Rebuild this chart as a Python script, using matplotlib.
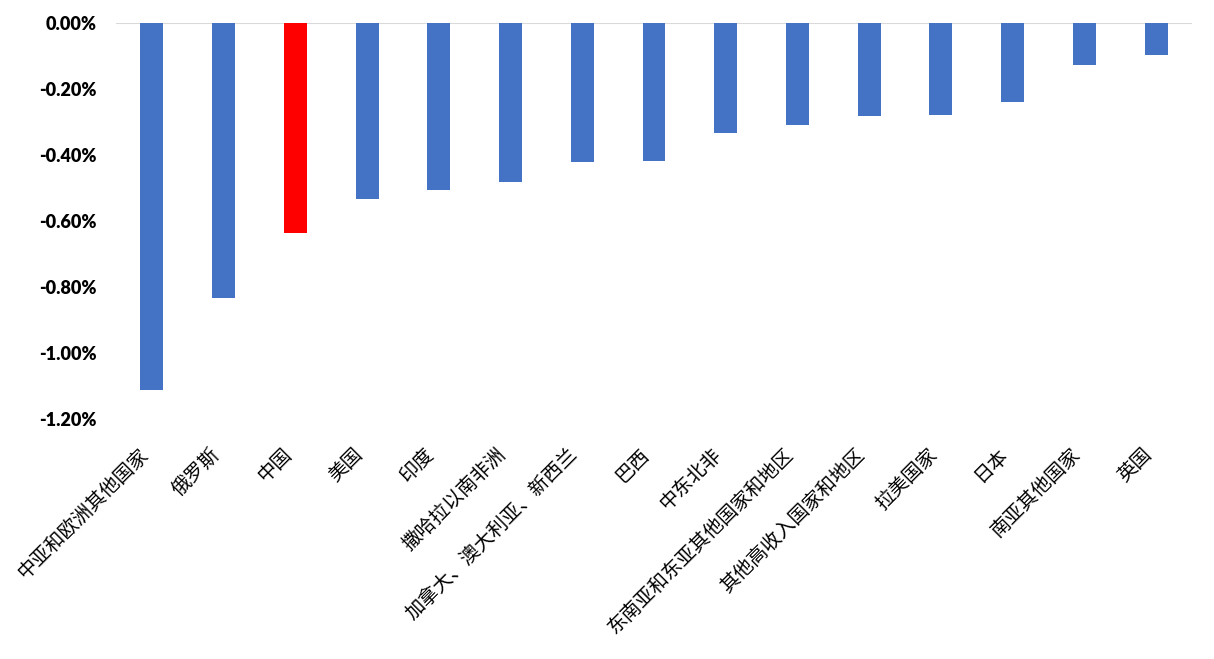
import matplotlib.pyplot as plt
from matplotlib.ticker import FuncFormatter

# Data
regions = ['中亚和欧洲其他国家', '俄罗斯', '中国', '美国', '印度', '撒哈拉以南非洲',
           '加拿大、澳大利亚、新西兰', '巴西', '中东北非', '东南亚和东亚其他国家和地区',
           '其他高收入国家和地区', '拉美国家', '日本', '南亚其他国家', '英国']
values = [-1.112, -0.832, -0.635, -0.534, -0.507, -0.481, -0.420, -0.418,
          -0.334, -0.310, -0.282, -0.279, -0.240, -0.128, -0.096]
highlight = '中国'

blue = '#4472C4'
red = '#FF0000'
colors = [red if r == highlight else blue for r in regions]

fig = plt.figure(figsize=(12.14, 6.59), dpi=100)
ax = fig.add_axes([116 / 1214, 1 - 419 / 659, (1192 - 116) / 1214, (419 - 23) / 659])

x = list(range(len(regions)))
ax.bar(x, values, width=0.32, color=colors, zorder=2)
ax.axhline(0, color='#d9d9d9', lw=1.5, zorder=1)

ax.set_xlim(-0.5, len(regions) - 0.5)
ax.set_ylim(-1.2, 0)
ax.set_yticks([0, -0.2, -0.4, -0.6, -0.8, -1.0, -1.2])
ax.yaxis.set_major_formatter(FuncFormatter(lambda v, p: f'{v:.2f}%' if abs(v) > 1e-9 else '0.00%'))

for s in ax.spines.values():
    s.set_visible(False)
ax.tick_params(axis='both', length=0)
ax.tick_params(axis='y', pad=14)

for lab in ax.get_yticklabels():
    lab.set_fontfamily(['Lato', 'DejaVu Sans'])
    lab.set_fontweight('heavy')
    lab.set_fontsize(13)

ax.set_xticks(x)
ax.set_xticklabels(regions, rotation=45, ha='right', rotation_mode='default',
                   fontsize=14, family=['Noto Sans CJK SC', 'DejaVu Sans'])
ax.tick_params(axis='x', pad=18)

fig.savefig('out.png', dpi=100)
